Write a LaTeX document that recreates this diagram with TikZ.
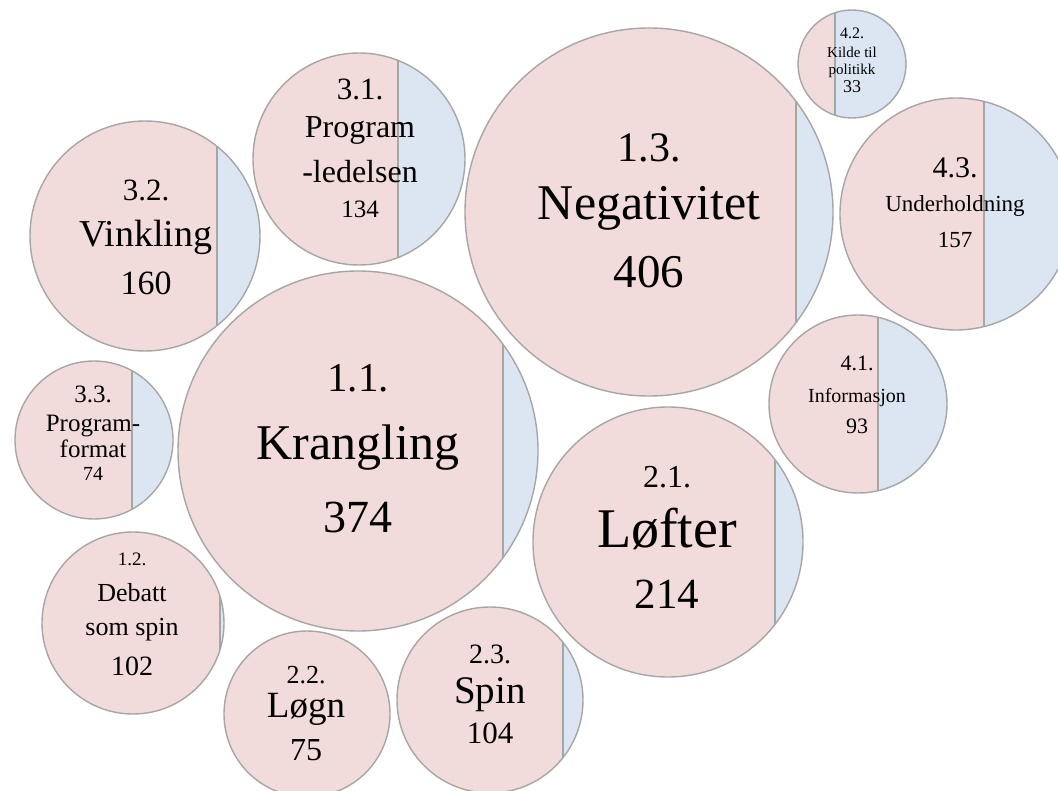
\documentclass[tikz,border=0pt]{standalone}
\usepackage{fontspec}
\setmainfont{Liberation Serif}
\newfontfamily\timesfont{Liberation Serif}
\definecolor{pinkfill}{HTML}{F2DCDB}
\definecolor{bluefill}{HTML}{DCE6F2}
\definecolor{rimgray}{HTML}{A6A6A6}
\tikzset{
  rim/.style={draw=rimgray, line width=1.4pt},
  lbl/.style={anchor=base, inner sep=0pt, text=black}
}
\newcommand{\fsz}[1]{\timesfont\fontsize{#1}{#1}\selectfont}
% bubble: centre x, centre y, radius, x of the split
\newcommand{\bubble}[4]{%
  \fill[pinkfill] (#1,#2) circle (#3);
  \begin{scope}
    \clip (#1,#2) circle (#3);
    \fill[bluefill] ({#4},{#2-#3}) rectangle ({#1+#3},{#2+#3});
    \draw[rim] ({#4},{#2-#3}) -- ({#4},{#2+#3});
  \end{scope}
  \draw[rim] (#1,#2) circle (#3);}

\begin{document}
\begin{tikzpicture}[x=1pt, y=-1pt]
  \useasboundingbox[fill=white] (0,0) rectangle (1058,791);
  \bubble{852}{64}{54}{835}   % 4.2
  \bubble{858}{404}{89}{878}  % 4.1
  \bubble{94}{440}{79}{132}   % 3.3
  \bubble{133}{623}{91}{220}  % 1.2
  \bubble{307}{714}{83}{400}  % 2.2
  \bubble{490}{700}{93}{563}  % 2.3
  \bubble{359}{159}{106}{398} % 3.1
  \bubble{145}{236}{115}{217} % 3.2
  \bubble{358}{451}{180}{503} % 1.1
  \bubble{649}{212}{184}{796} % 1.3
  \bubble{956}{214}{116}{984} % 4.3
  \bubble{668}{542}{135}{775} % 2.1
  % 1.3
  \node[lbl, font=\fsz{42}] (negnum) at (649,162) {1.3.};
  \node[lbl, font=\fsz{50}] (negname) at (649,220) {Negativitet};
  \node[lbl, font=\fsz{47}] (negcount) at (649,288) {406};
  % 1.1
  \node[lbl, font=\fsz{41}] (kranum) at (358,392) {1.1.};
  \node[lbl, font=\fsz{50}] (kraname) at (358,460) {Krangling};
  \node[lbl, font=\fsz{46}] (kracount) at (358,532) {374};
  % 2.1
  \node[lbl, font=\fsz{32}] (lofnum) at (667,487) {2.1.};
  \node[lbl, font=\fsz{56}] (lofname) at (667,547) {Løfter};
  \node[lbl, font=\fsz{43}] (lofcount) at (667,608) {214};
  % 3.2
  \node[lbl, font=\fsz{31}] (vinnum) at (146,201) {3.2.};
  \node[lbl, font=\fsz{38}] (vinname) at (146,247) {Vinkling};
  \node[lbl, font=\fsz{34}] (vincount) at (146,295) {160};
  % 3.1
  \node[lbl, font=\fsz{31}] (prgnum) at (360,100) {3.1.};
  \node[lbl, font=\fsz{32}] (prgname) at (360,138) {Program};
  \node[lbl, font=\fsz{32}] (prgname2) at (360,183) {-ledelsen};
  \node[lbl, font=\fsz{25}] (prgcount) at (360,218) {134};
  % 3.3
  \node[lbl, font=\fsz{25}] (fmtnum) at (93,403) {3.3.};
  \node[lbl, font=\fsz{25}] (fmtname) at (93,432) {Program-};
  \node[lbl, font=\fsz{25}] (fmtname2) at (93,457) {format};
  \node[lbl, font=\fsz{20}] (fmtcount) at (93,480) {74};
  % 1.2
  \node[lbl, font=\fsz{19}] (debnum) at (132,565) {1.2.};
  \node[lbl, font=\fsz{26}] (debname) at (132,601) {Debatt};
  \node[lbl, font=\fsz{26}] (debname2) at (132,635) {som spin};
  \node[lbl, font=\fsz{28}] (debcount) at (132,675) {102};
  % 2.2
  \node[lbl, font=\fsz{26}] (lognum) at (306,683) {2.2.};
  \node[lbl, font=\fsz{37}] (logname) at (306,717) {Løgn};
  \node[lbl, font=\fsz{32}] (logcount) at (306,760) {75};
  % 2.3
  \node[lbl, font=\fsz{28}] (spinum) at (490,663) {2.3.};
  \node[lbl, font=\fsz{39}] (spiname) at (490,703) {Spin};
  \node[lbl, font=\fsz{31}] (spicount) at (490,743) {104};
  % 4.3
  \node[lbl, font=\fsz{30}] (undnum) at (955,178) {4.3.};
  \node[lbl, font=\fsz{23}] (undname) at (955,212) {Underholdning};
  \node[lbl, font=\fsz{23}] (undcount) at (955,248) {157};
  % 4.1
  \node[lbl, font=\fsz{22}] (infnum) at (857,371) {4.1.};
  \node[lbl, font=\fsz{20}] (infname) at (857,403) {Informasjon};
  \node[lbl, font=\fsz{22}] (infcount) at (857,434) {93};
  % 4.2
  \node[lbl, font=\fsz{16}] (kilnum) at (852,39) {4.2.};
  \node[lbl, font=\fsz{15}] (kilname) at (852,58) {Kilde til};
  \node[lbl, font=\fsz{15}] (kilname2) at (852,75) {politikk};
  \node[lbl, font=\fsz{18}] (kilcount) at (852,93) {33};
\end{tikzpicture}
\end{document}
